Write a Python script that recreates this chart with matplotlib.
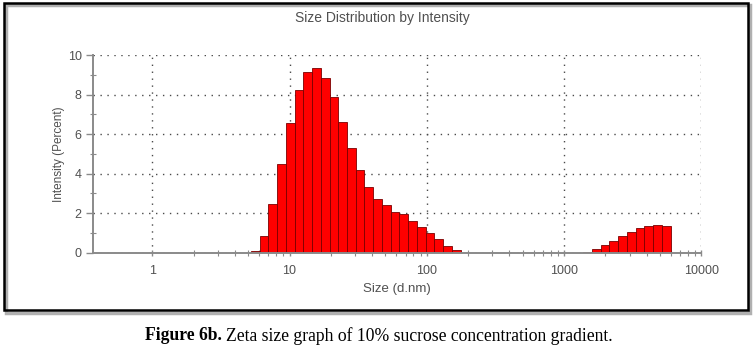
import matplotlib
matplotlib.use("Agg")
import matplotlib.pyplot as plt
from matplotlib.patches import Rectangle
from matplotlib.ticker import FixedLocator, NullFormatter
import numpy as np

# size classes (d.nm, bin centres) and intensity (%)
peak1_size = [5.615, 6.503, 7.531, 8.721, 10.1, 11.7, 13.54, 15.69, 18.17, 21.04,
              24.36, 28.21, 32.67, 37.84, 43.82, 50.75, 58.77, 68.06, 78.82, 91.28,
              105.7, 122.4, 141.8, 164.2]
peak1_int = [0.1, 0.87, 2.46, 4.47, 6.55, 8.22, 9.15, 9.36, 8.86, 7.86,
             6.6, 5.31, 4.2, 3.33, 2.71, 2.4, 2.04, 1.94, 1.62, 1.32,
             1.02, 0.69, 0.35, 0.12]
peak2_size = [1484, 1718, 1990, 2305, 2669, 3091, 3580, 4145, 4801, 5560]
peak2_int = [0.05, 0.17, 0.4, 0.6, 0.84, 1.06, 1.23, 1.35, 1.38, 1.35]

x_ticks = [1, 10, 100, 1000, 10000]
x_labels = ["1", "10", "100", "1000", "10000"]
y_ticks = [0, 2, 4, 6, 8, 10]

GRAY = "#8a8a8a"; TXT = "#505050"; GRID = "#4a4a4a"
ratio = 1.158  # bin width ratio of the size classes

plt.rcParams["font.family"] = ["Liberation Sans", "DejaVu Sans"]
fig = plt.figure(figsize=(7.53, 3.52), dpi=100)
fig.patch.set_facecolor("white")

# frame with a soft shadow
fig.patches.append(Rectangle((6/753, 1-313/352), 744/753, 308/352, transform=fig.transFigure,
                             fill=False, ec="#b0b0b0", lw=2.5, zorder=0))
fig.patches.append(Rectangle((4/753, 1-310/352), 744/753, 307/352, transform=fig.transFigure,
                             fill=False, ec="black", lw=1.8, zorder=1))

ax = fig.add_axes([92.7/753, 99.3/352, 608.6/753, 197.7/352])
s = np.array(peak1_size + peak2_size)
v = np.array(peak1_int + peak2_int)
left = s / np.sqrt(ratio)
ax.bar(left, v, width=left*(ratio-1), align="edge", color="#ff0000",
       edgecolor="#7a0000", lw=0.6, zorder=3)

ax.set_xscale("log")
ax.set_xlim(0.368, 10000)
ax.set_ylim(0, 10)
ax.xaxis.set_major_locator(FixedLocator(x_ticks))
ax.set_xticklabels(x_labels)
ax.xaxis.set_minor_locator(FixedLocator([m*d for d in [1, 10, 100, 1000] for m in range(2, 10)]))
ax.xaxis.set_minor_formatter(NullFormatter())
ax.set_yticks(y_ticks)
ax.set_yticks([1, 3, 5, 7, 9], minor=True)

for sp in ["top", "right"]:
    ax.spines[sp].set_visible(False)
for sp in ["left", "bottom"]:
    ax.spines[sp].set_color(GRAY)
    ax.spines[sp].set_linewidth(1.4)
    ax.spines[sp].set_zorder(4)

ax.tick_params(axis="both", which="major", direction="inout", length=5, width=1, color=GRAY,
               labelcolor=TXT, labelsize=9)
ax.tick_params(axis="both", which="minor", direction="inout", length=5, width=0.8, color=GRAY)
ax.tick_params(axis="x", which="major", pad=6)
ax.tick_params(axis="y", which="major", direction="out", pad=3)

ax.grid(True, which="major", color=GRID, linestyle=(0, (1, 4)), lw=1.0, zorder=1)
ax.set_axisbelow(True)

ax.set_xlabel("Size (d.nm)", color=TXT, fontsize=9.5, labelpad=5)
ax.set_ylabel("Intensity (Percent)", color=TXT, fontsize=8.5, labelpad=2)
fig.text(382/753, 1-18/352, "Size Distribution by Intensity", color=TXT, fontsize=10,
         ha="center", va="center")

# caption: bold label followed by regular text
cy = 1 - 336/352
t1 = fig.text(145/753, cy, "Figure 6b.", fontsize=12.7, fontweight="bold", ha="left", va="center",
              family="Liberation Serif")
fig.canvas.draw()
bb = t1.get_window_extent()
fig.text((bb.x1 + 4)/753, cy, "Zeta size graph of 10% sucrose concentration gradient.",
         fontsize=12.7, ha="left", va="center", family="Liberation Serif")

fig.savefig("out.png", dpi=100, facecolor="white")
